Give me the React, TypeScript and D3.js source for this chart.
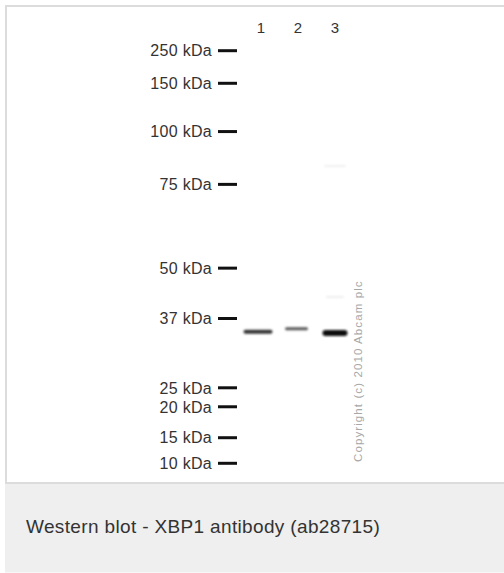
import React from "react";
import * as d3 from "d3";

// Marker ladder (kDa) and their relative migration (0 = top marker, 1 = bottom marker)
const markerKDa = [250, 150, 100, 75, 50, 37, 25, 20, 15, 10];
const markerMobility = [0, 0.079, 0.196, 0.324, 0.527, 0.649, 0.817, 0.863, 0.938, 1];
const markerLabels = markerKDa.map((d) => `${d} kDa`);

// Lanes
const lanes = ["1", "2", "3"];

// Detected bands: lane, apparent size (kDa), intensity (0..1), relative width, relative thickness
const bandLane = ["1", "2", "3", "3", "3"];
const bandKDa = [34.3, 34.9, 34.1, 82.9, 42.1];
const bandIntensity = [0.82, 0.68, 1.0, 0.08, 0.1];
const bandWidth = [29, 23, 25, 22, 18];
const bandThickness = [4, 3, 6, 1.5, 1.5];

const caption = "Western blot - XBP1 antibody (ab28715)";
const copyright = "Copyright (c) 2010 Abcam plc";

const W = 504;
const H = 573;

export default function App() {
  // mobility -> pixel
  const y = d3.scaleLinear().domain([0, 1]).range([50.7, 463.3]);
  // kDa -> mobility, piecewise log interpolation over the ladder
  const mob = d3.scaleLog().domain(markerKDa).range(markerMobility);
  const x = d3.scalePoint().domain(lanes).range([258, 335]);
  const labelX = d3.scalePoint().domain(lanes).range([261, 335]);
  const gray = d3.scaleLinear<string>().domain([0, 1]).range(["#ffffff", "#0a0a0a"]);

  return (
    <div style={{ position: "absolute", left: 0, top: 0 }}>
      <svg width={W} height={H} style={{ display: "block" }}>
        <defs>
          <filter id="blur" x="-50%" y="-200%" width="200%" height="500%">
            <feGaussianBlur stdDeviation="1.1 0.9" />
          </filter>
        </defs>
        <rect x={0} y={0} width={W} height={H} fill="#ffffff" />
        {/* image frame */}
        <rect x={6} y={6} width={W} height={477} fill="#ffffff" stroke="#dcdcdc" strokeWidth={2} />
        {/* caption area */}
        <rect x={5} y={484} width={W - 5} height={88.5} fill="#eeefee" />
        <text
          x={26}
          y={533}
          fontFamily="'Liberation Sans', Arial, sans-serif"
          fontSize={19}
          letterSpacing={0.35}
          fill="#333333"
        >
          {caption}
        </text>

        {/* marker ladder */}
        {markerKDa.map((k, i) => {
          const yy = y(markerMobility[i]);
          return (
            <g key={k}>
              <text
                x={212}
                y={yy}
                dy="0.36em"
                textAnchor="end"
                fontFamily="'Liberation Sans', Arial, sans-serif"
                fontSize={16}
                letterSpacing={0.3}
                fill="#333333"
              >
                {markerLabels[i]}
              </text>
              <line x1={218} x2={237} y1={yy} y2={yy} stroke="#111111" strokeWidth={3} />
            </g>
          );
        })}

        {/* lane numbers */}
        {lanes.map((l) => (
          <text
            key={l}
            x={labelX(l)}
            y={28}
            dy="0.36em"
            textAnchor="middle"
            fontFamily="'Liberation Sans', Arial, sans-serif"
            fontSize={15}
            fill="#333333"
          >
            {l}
          </text>
        ))}

        {/* bands */}
        <g filter="url(#blur)">
          {bandLane.map((l, i) => {
            const cx = x(l) as number;
            const cy = y(mob(bandKDa[i]));
            return (
              <rect
                key={i}
                x={cx - bandWidth[i] / 2}
                y={cy - bandThickness[i] / 2}
                width={bandWidth[i]}
                height={bandThickness[i]}
                rx={bandThickness[i] / 2}
                fill={gray(bandIntensity[i])}
              />
            );
          })}
        </g>

        {/* copyright */}
        <text
          transform={`translate(362, 462) rotate(-90)`}
          fontFamily="'Liberation Sans', Arial, sans-serif"
          fontSize={11.5}
          letterSpacing={1.1}
          fill="#a8a8a8"
        >
          {copyright}
        </text>
      </svg>
    </div>
  );
}
